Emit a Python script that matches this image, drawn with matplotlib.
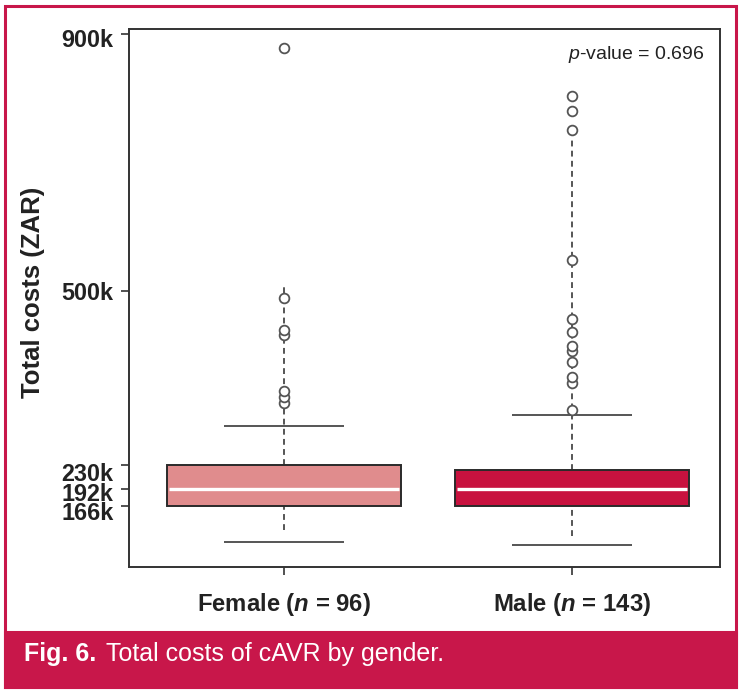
import matplotlib.pyplot as plt
from matplotlib.patches import Rectangle
from matplotlib.transforms import ScaledTranslation

plt.rcParams['font.family'] = ['Liberation Sans', 'DejaVu Sans']
plt.rcParams['mathtext.fontset'] = 'custom'
plt.rcParams['mathtext.it'] = 'Liberation Sans:italic:bold'
plt.rcParams['mathtext.sf'] = 'Liberation Sans:italic'

# data (costs in thousands of ZAR)
groups = ['Female', 'Male']
n_obs = [96, 143]
q1 = [166, 166]
medians = [192, 192]
q3 = [230, 222]
cap_low = [111, 106]
cap_high = [291, 308]
dash_low = [129, 120]
dash_high = [510, 735]
outliers_female = [327, 336, 345, 432, 440, 490, 877]
outliers_male = [315, 358, 367, 390, 407, 415, 437, 457, 549, 750, 780, 803]
outliers = [outliers_female, outliers_male]
ytick_vals = [166, 192, 230, 500, 900]
p_value = 0.696

fill_colors = ['#E08C8D', '#C8123F']
crimson = '#C8174A'
grey = '#555555'

fig = plt.figure(figsize=(7.44, 6.96), dpi=100)
ax = fig.add_axes([0.1734, 0.1853, 0.7943, 0.773])

pos = [1, 2]
box_w = 0.81
cap_w = 0.417
for i, x in enumerate(pos):
    # dashed whisker lines
    ax.vlines(x, q3[i], dash_high[i], colors=grey, linestyles=(0, (3, 2.2)), lw=1.4, zorder=1)
    ax.vlines(x, dash_low[i], q1[i], colors=grey, linestyles=(0, (3, 2.2)), lw=1.4, zorder=1)
    # caps
    ax.hlines([cap_low[i], cap_high[i]], x - cap_w / 2, x + cap_w / 2, colors=grey, lw=1.4, zorder=2)
    # box
    ax.add_patch(Rectangle((x - box_w / 2, q1[i]), box_w, q3[i] - q1[i],
                           facecolor=fill_colors[i], edgecolor='#2a2a2a', lw=1.4, zorder=3))
    ax.hlines(medians[i], x - box_w / 2 + 0.005, x + box_w / 2 - 0.005, colors='white', lw=2.4, zorder=4)
    # outliers
    ax.plot([x] * len(outliers[i]), outliers[i], 'o', mfc='white', mec=grey, ms=7, mew=1.3, zorder=5)

ax.set_xlim(0.462, 2.514)
ax.set_ylim(71.6, 907)
ax.set_xticks(pos)
ax.set_xticklabels([f'{g} ($n$ = {k})' for g, k in zip(groups, n_obs)],
                   fontsize=17.2, fontweight='bold', color='#222222')
ax.set_yticks(ytick_vals)
ax.set_yticklabels([f'{v}k' for v in ytick_vals], fontsize=16.8, fontweight='bold', color='#222222')
ax.tick_params(axis='y', length=6, width=1.2, color='#333333', pad=5)
ax.tick_params(axis='x', length=6, width=1.2, color='#333333', pad=11)
for s in ax.spines.values():
    s.set_color('#333333')
    s.set_linewidth(1.4)

# nudge the crowded y labels downward like the original (pixels)
label_shift = [-4.4, -2.8, -6.7, 0, -4.7]
for lab, dy in zip(ax.get_yticklabels(), label_shift):
    lab.set_transform(lab.get_transform() + ScaledTranslation(0, dy / 100, fig.dpi_scale_trans))

fig.text(32.7 / 744, 1 - 292 / 696, 'Total costs (ZAR)', rotation=90, ha='center', va='center',
         fontsize=18.5, fontweight='bold', color='#222222')

ax.text(0.9746, 0.952, r'$\mathsf{p}$-value = ' + f'{p_value}', transform=ax.transAxes,
        ha='right', va='center', fontsize=14, color='#222222')

# frame and caption bar
fig.patches.append(Rectangle((5 / 744, 9 / 696), 731 / 744, 681 / 696, transform=fig.transFigure,
                             fill=False, edgecolor=crimson, lw=2.2, zorder=0))
fig.patches.append(Rectangle((5 / 744, 9 / 696), 731 / 744, 55 / 696, transform=fig.transFigure,
                             facecolor=crimson, edgecolor=crimson, lw=2.2, zorder=0))

t1 = fig.text(24 / 744, 1 - 661 / 696, 'Fig. 6.', fontsize=18, fontweight='bold', color='white',
              va='baseline')
fig.canvas.draw()
bb = t1.get_window_extent()
fig.text(bb.x1 / 744 + 10 / 744, 1 - 661 / 696, 'Total costs of cAVR by gender.', fontsize=18,
         color='white', va='baseline')

fig.savefig('out.png', dpi=100)
